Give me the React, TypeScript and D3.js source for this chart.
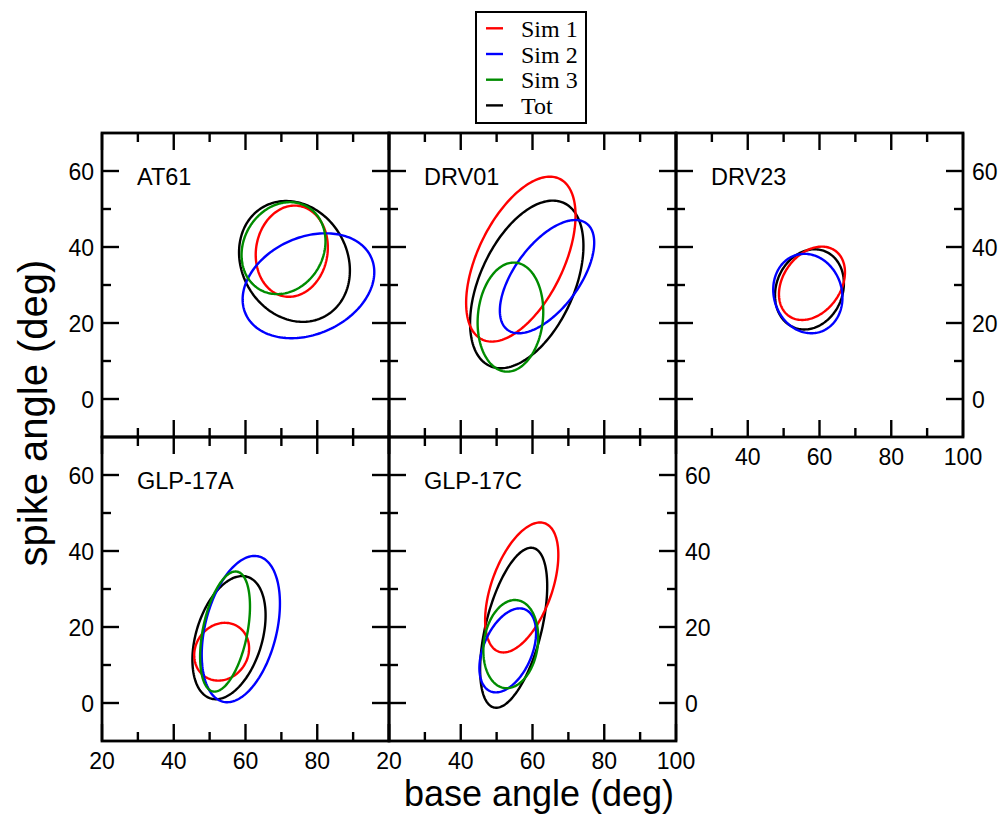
import React from "react";
import * as d3 from "d3";

// Panel names, laid out in a 3 x 2 grid (the sixth cell is empty)
const panelNames = ["AT61", "DRV01", "DRV23", "GLP-17A", "GLP-17C"];
const panelCol = [0, 1, 2, 0, 1];
const panelRow = [0, 0, 0, 1, 1];

// Series of the legend
const seriesNames = ["Sim 1", "Sim 2", "Sim 3", "Tot"];
const seriesColors = ["#ff0000", "#0000ff", "#008c00", "#000000"];

// Ellipse parameters per panel: [centre base, centre spike, half-width, half-height, correlation]
const sim1 = [
  [72.9, 38.9, 10.05, 12.0, 0.08],
  [56.75, 36.8, 15.25, 21.7, 0.53],
  [57.9, 30.45, 9.2, 9.65, 0.3],
  [53.35, 13.5, 7.65, 7.6, 0.12],
  [57.0, 30.4, 10.2, 17.1, 0.5],
];
const sim2 = [
  [77.55, 29.8, 18.35, 13.8, 0.26],
  [64.05, 32.2, 13.15, 14.9, 0.6],
  [56.75, 27.75, 9.65, 10.45, -0.1],
  [58.7, 19.45, 10.9, 19.25, 0.35],
  [53.1, 13.85, 7.9, 11.05, 0.42],
];
const sim3 = [
  [70.6, 39.7, 11.7, 12.1, 0.15],
  [53.85, 21.55, 9.15, 14.35, 0.1],
  null,
  [54.3, 18.8, 6.95, 15.8, 0.42],
  [53.95, 15.5, 7.65, 11.6, 0.15],
];
const tot = [
  [73.65, 36.2, 15.45, 15.9, -0.15],
  [58.4, 30.15, 15.8, 22.05, 0.46],
  [57.2, 28.85, 9.6, 10.55, 0.15],
  [55.4, 17.2, 10.2, 16.2, 0.36],
  [54.75, 19.8, 9.35, 21.05, 0.52],
];
const seriesData = [sim1, sim2, sim3, tot];

// Axis ticks
const xMajor = [20, 40, 60, 80, 100];
const xMinor = [30, 50, 70, 90];
const yMajor = [0, 20, 40, 60];
const yMinor = [10, 30, 50];

// Which tick labels each panel shows
const leftLabels = [true, false, false, true, false];
const rightLabels = [false, false, true, false, true];
const bottomLabelValues = [[], [], [40, 60, 80, 100], [20, 40, 60, 80], [20, 40, 60, 80, 100]];

const W = 1003;
const H = 815;
const X0 = 102;
const Y0 = 133;
const PW = 287;
const PH = 304;
const MAJ = 17;
const MIN = 9;
const TICK_FONT = 23;
const SANS = "'Liberation Sans', Arial, Helvetica, sans-serif";
const SERIF = "'Liberation Serif', 'Times New Roman', serif";

const x = d3.scaleLinear().domain([20, 100]).range([0, PW]);
const y = d3.scaleLinear().domain([-10, 70]).range([PH, 0]);

function ellipsePath(p: number[]) {
  const [cx, cy, hx, hy, rho] = p;
  const s = Math.sqrt(1 - rho * rho);
  const pts = d3.range(0, 180).map((i) => {
    const t = (i / 180) * Math.PI * 2;
    return [cx + hx * Math.cos(t), cy + hy * (rho * Math.cos(t) + s * Math.sin(t))] as [number, number];
  });
  return d3
    .line<[number, number]>()
    .x((d) => x(d[0]))
    .y((d) => y(d[1]))
    .curve(d3.curveLinearClosed)(pts) as string;
}

function Panel({ i }: { i: number }) {
  const px = X0 + panelCol[i] * PW;
  const py = Y0 + panelRow[i] * PH;
  const order = [3, 0, 1, 2];
  return (
    <g transform={`translate(${px},${py})`}>
      {order.map((s) => {
        const p = seriesData[s][i];
        if (!p) return null;
        return (
          <path
            key={s}
            d={ellipsePath(p as number[])}
            fill="none"
            stroke={seriesColors[s]}
            strokeWidth={2.4}
          />
        );
      })}
      {/* ticks on all four sides, pointing inward */}
      {xMajor.concat(xMinor).map((v) => {
        const len = xMajor.includes(v) ? MAJ : MIN;
        return (
          <g key={"x" + v}>
            <line x1={x(v)} x2={x(v)} y1={PH} y2={PH - len} stroke="#000" strokeWidth={2.4} />
            <line x1={x(v)} x2={x(v)} y1={0} y2={len} stroke="#000" strokeWidth={2.4} />
          </g>
        );
      })}
      {yMajor.concat(yMinor).map((v) => {
        const len = yMajor.includes(v) ? MAJ : MIN;
        return (
          <g key={"y" + v}>
            <line x1={0} x2={len} y1={y(v)} y2={y(v)} stroke="#000" strokeWidth={2.4} />
            <line x1={PW} x2={PW - len} y1={y(v)} y2={y(v)} stroke="#000" strokeWidth={2.4} />
          </g>
        );
      })}
      <rect x={0} y={0} width={PW} height={PH} fill="none" stroke="#000" strokeWidth={2.8} />
      <text x={35} y={52} fontFamily={SANS} fontSize={23.5}>
        {panelNames[i]}
      </text>
      {leftLabels[i] &&
        yMajor.map((v) => (
          <text key={"l" + v} x={-8} y={y(v) + 8.5} textAnchor="end" fontFamily={SANS} fontSize={TICK_FONT}>
            {v}
          </text>
        ))}
      {rightLabels[i] &&
        yMajor.map((v) => (
          <text key={"r" + v} x={PW + 9} y={y(v) + 8.5} textAnchor="start" fontFamily={SANS} fontSize={TICK_FONT}>
            {v}
          </text>
        ))}
      {bottomLabelValues[i].map((v) => (
        <text key={"b" + v} x={x(v)} y={PH + 28} textAnchor="middle" fontFamily={SANS} fontSize={TICK_FONT}>
          {v}
        </text>
      ))}
    </g>
  );
}

function Legend() {
  const lx = 476;
  const ly = 12;
  const rowY = [28.3, 54, 79.7, 105.4];
  return (
    <g>
      <rect x={lx} y={ly} width={110} height={111} fill="#fff" stroke="#000" strokeWidth={2} />
      {seriesNames.map((n, k) => (
        <g key={n}>
          <line x1={486} x2={503} y1={rowY[k]} y2={rowY[k]} stroke={seriesColors[k]} strokeWidth={2.4} />
          <text x={521} y={rowY[k] + 8.5} fontFamily={SERIF} fontSize={24}>
            {n}
          </text>
        </g>
      ))}
    </g>
  );
}

export default function App() {
  return (
    <svg
      width={W}
      height={H}
      viewBox={`0 0 ${W} ${H}`}
      style={{ position: "absolute", left: 0, top: 0, background: "#fff" }}
    >
      <rect x={0} y={0} width={W} height={H} fill="#fff" />
      {panelNames.map((_, i) => (
        <Panel key={i} i={i} />
      ))}
      <Legend />
      <text x={539} y={806} textAnchor="middle" fontFamily={SANS} fontSize={36}>
        base angle (deg)
      </text>
      <text
        transform={`translate(47,413) rotate(-90)`}
        textAnchor="middle"
        fontFamily={SANS}
        fontSize={40}
      >
        spike angle (deg)
      </text>
    </svg>
  );
}
